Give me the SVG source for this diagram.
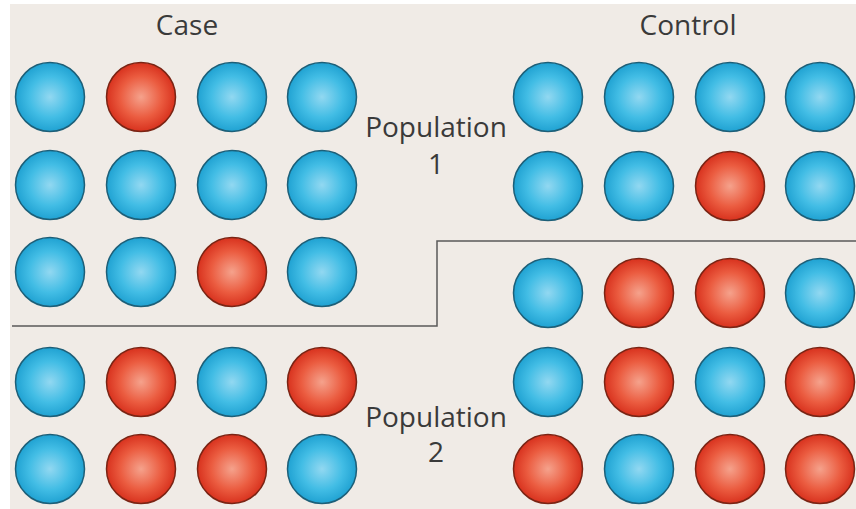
<svg xmlns="http://www.w3.org/2000/svg" width="856" height="509" viewBox="0 0 856 509">
<defs>
<radialGradient id="gb" cx="0.5" cy="0.5" r="0.5">
<stop offset="0" stop-color="#92d8f1"/>
<stop offset="0.6" stop-color="#42bde5"/>
<stop offset="1" stop-color="#20a2d2"/>
</radialGradient>
<radialGradient id="gr" cx="0.5" cy="0.5" r="0.5">
<stop offset="0" stop-color="#f5a28c"/>
<stop offset="0.6" stop-color="#eb5c40"/>
<stop offset="1" stop-color="#d8321e"/>
</radialGradient>
<circle id="b" r="34.5" fill="url(#gb)" stroke="#1d5f78" stroke-width="1.5"/>
<circle id="r" r="34.5" fill="url(#gr)" stroke="#7a2414" stroke-width="1.5"/>
</defs>
<style>
text{font-family:"Open Sans","Liberation Sans",sans-serif;font-size:28px;fill:#3a3a3a;text-anchor:middle}
.ln{fill:none;stroke:#5a5a5a;stroke-width:1.5}
</style>
<rect x="0" y="0" width="856" height="509" fill="#ffffff"/>
<rect x="10" y="4" width="846" height="505" fill="#f0ebe6"/>
<g id="labels">
<text x="187" y="35">Case</text>
<text x="688" y="35">Control</text>
<text x="436" y="137">Population</text>
<text x="436" y="174">1</text>
<text x="436" y="427">Population</text>
<text x="436" y="462">2</text>
</g>
<g id="divider">
<polyline class="ln" points="12,326 437,326 437,241 856,241"/>
</g>
<g id="case-pop1">
<use href="#b" x="50" y="97"/><use href="#r" x="141" y="97"/><use href="#b" x="232" y="97"/><use href="#b" x="322" y="97"/>
<use href="#b" x="50" y="185"/><use href="#b" x="141" y="185"/><use href="#b" x="232" y="185"/><use href="#b" x="322" y="185"/>
<use href="#b" x="50" y="272"/><use href="#b" x="141" y="272"/><use href="#r" x="232" y="272"/><use href="#b" x="322" y="272"/>
</g>
<g id="control-pop1">
<use href="#b" x="548" y="97"/><use href="#b" x="639" y="97"/><use href="#b" x="730" y="97"/><use href="#b" x="820" y="97"/>
<use href="#b" x="548" y="186"/><use href="#b" x="639" y="186"/><use href="#r" x="730" y="186"/><use href="#b" x="820" y="186"/>
</g>
<g id="case-pop2">
<use href="#b" x="50" y="382"/><use href="#r" x="141" y="382"/><use href="#b" x="232" y="382"/><use href="#r" x="322" y="382"/>
<use href="#b" x="50" y="469"/><use href="#r" x="141" y="469"/><use href="#r" x="232" y="469"/><use href="#b" x="322" y="469"/>
</g>
<g id="control-pop2">
<use href="#b" x="548" y="293"/><use href="#r" x="639" y="293"/><use href="#r" x="730" y="293"/><use href="#b" x="820" y="293"/>
<use href="#b" x="548" y="382"/><use href="#r" x="639" y="382"/><use href="#b" x="730" y="382"/><use href="#r" x="820" y="382"/>
<use href="#r" x="548" y="469"/><use href="#b" x="639" y="469"/><use href="#r" x="730" y="469"/><use href="#r" x="820" y="469"/>
</g>
</svg>
